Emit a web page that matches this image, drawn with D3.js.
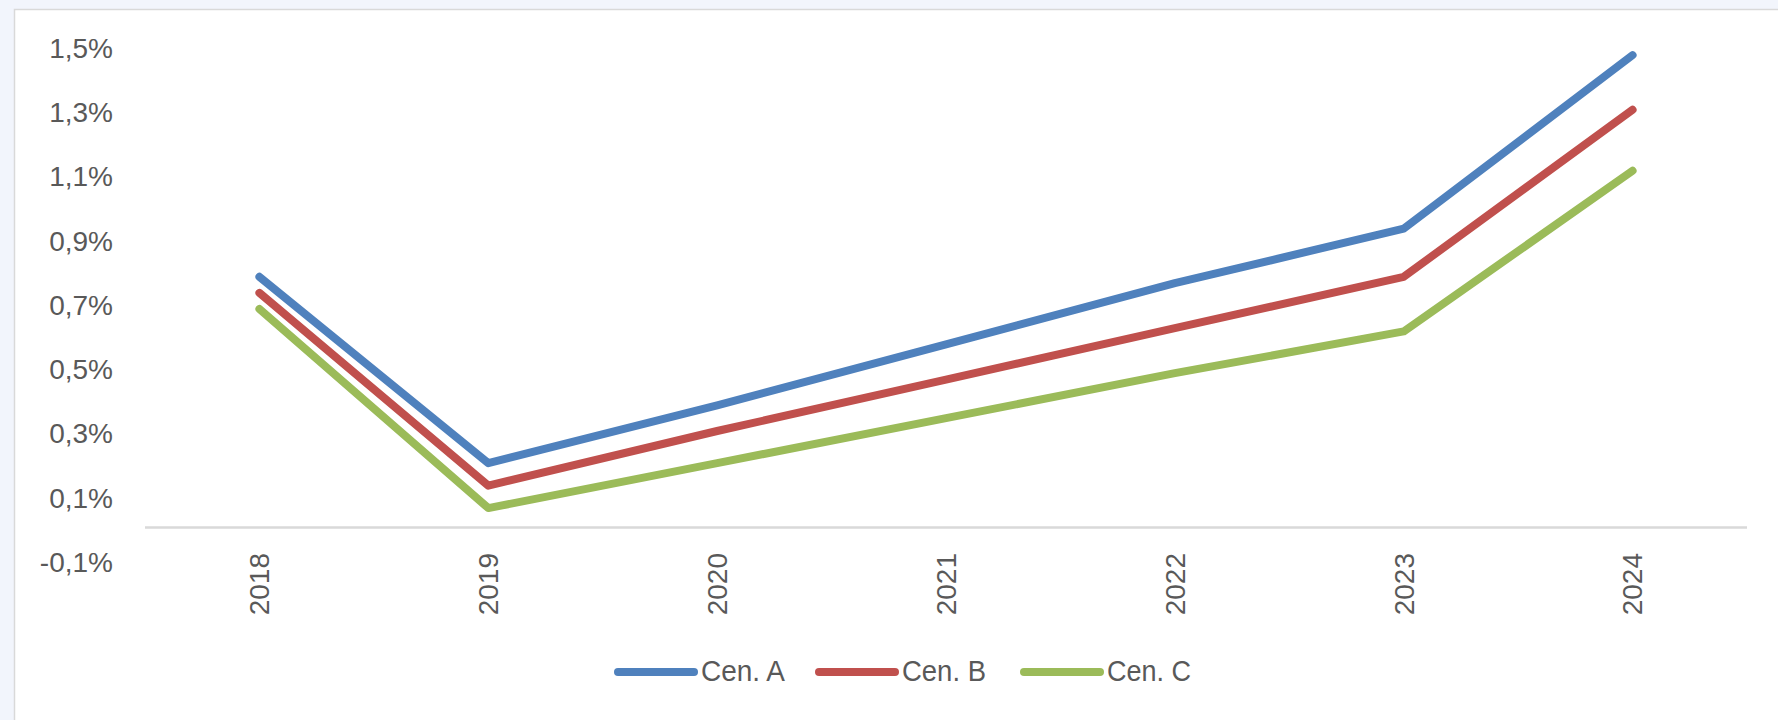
<!DOCTYPE html>
<html>
<head>
<meta charset="utf-8">
<script src="https://cdn.jsdelivr.net/npm/d3@7"></script>
<style>
  html, body { margin: 0; padding: 0; background: #f2f5fc; }
  svg { display: block; }
</style>
</head>
<body>
<div id="chart"></div>
<script>
////////////////////////////// DATA ////////////////////////////////

const years = ["2018", "2019", "2020", "2021", "2022", "2023", "2024"];
const cenA = [0.78, 0.20, 0.38, 0.57, 0.76, 0.93, 1.47];
const cenB = [0.73, 0.13, 0.30, 0.46, 0.62, 0.78, 1.30];
const cenC = [0.68, 0.06, 0.20, 0.34, 0.48, 0.61, 1.11];
const seriesNames = ["Cen. A", "Cen. B", "Cen. C"];
const yTicks = [-0.1, 0.1, 0.3, 0.5, 0.7, 0.9, 1.1, 1.3, 1.5];

////////////////////////////// SET UP ////////////////////////////////

const width = 1778;
const height = 720;
const colors = ["#4f81bd", "#c0504d", "#9bbb59"];
const textColor = "#595959";
const font = "'Liberation Sans', Arial, sans-serif";

const svg = d3
  .select("#chart")
  .append("svg")
  .attr("width", width)
  .attr("height", height);

// white chart area with thin grey frame
svg
  .append("rect")
  .attr("x", 14.5)
  .attr("y", 9.5)
  .attr("width", width)
  .attr("height", height)
  .style("fill", "#fff")
  .style("stroke", "#d9d9d9")
  .style("stroke-width", 1.5);

const x = d3.scaleBand().domain(years).range([145, 1747]);
const y = d3.scaleLinear().domain([-0.1, 1.5]).range([559.5, 45.5]);

////////////////////////////// AXES ////////////////////////////////

// y tick labels (no gridlines), comma decimals, plain hyphen for minus
svg
  .selectAll(".ylabel")
  .data(yTicks)
  .join("text")
  .attr("class", "ylabel")
  .attr("x", 113)
  .attr("y", (d) => y(d) + 2.5)
  .attr("dy", "0.35em")
  .style("text-anchor", "end")
  .style("font-family", font)
  .style("font-size", "28px")
  .style("fill", textColor)
  .text((d) => d3.format(".1f")(d).replace(".", ",").replace("\u2212", "-") + "%");

// horizontal axis line at zero
svg
  .append("line")
  .attr("x1", x.range()[0])
  .attr("x2", x.range()[1])
  .attr("y1", y(0))
  .attr("y2", y(0))
  .style("stroke", "#d9d9d9")
  .style("stroke-width", 2.5);

// rotated year labels
svg
  .selectAll(".xlabel")
  .data(years)
  .join("text")
  .attr("class", "xlabel")
  .attr("transform", (d) => `translate(${x(d) + x.bandwidth() / 2},553) rotate(-90)`)
  .attr("dy", "0.35em")
  .style("text-anchor", "end")
  .style("font-family", font)
  .style("font-size", "28px")
  .style("fill", textColor)
  .text((d) => d);

////////////////////////////// LINES ////////////////////////////////

const allSeries = [cenA, cenB, cenC];

const line = d3
  .line()
  .x((d, i) => x(years[i]) + x.bandwidth() / 2)
  .y((d) => y(d));

svg
  .selectAll(".series")
  .data(allSeries)
  .join("path")
  .attr("class", "series")
  .attr("d", (d) => line(d))
  .style("fill", "none")
  .style("stroke", (d, i) => colors[i])
  .style("stroke-width", 8)
  .style("stroke-linecap", "round")
  .style("stroke-linejoin", "round");

////////////////////////////// LEGEND ////////////////////////////////

const legendX = [618, 819, 1024];

const legend = svg
  .selectAll(".legend")
  .data(seriesNames)
  .join("g")
  .attr("class", "legend")
  .attr("transform", (d, i) => `translate(${legendX[i]},672)`);

legend
  .append("line")
  .attr("x1", 0)
  .attr("x2", 76)
  .style("stroke", (d, i) => colors[i])
  .style("stroke-width", 8)
  .style("stroke-linecap", "round");

legend
  .append("text")
  .attr("x", 83)
  .attr("y", -1)
  .attr("dy", "0.35em")
  .attr("textLength", 84)
  .attr("lengthAdjust", "spacingAndGlyphs")
  .style("font-family", font)
  .style("font-size", "29px")
  .style("fill", textColor)
  .text((d) => d);
</script>
</body>
</html>
